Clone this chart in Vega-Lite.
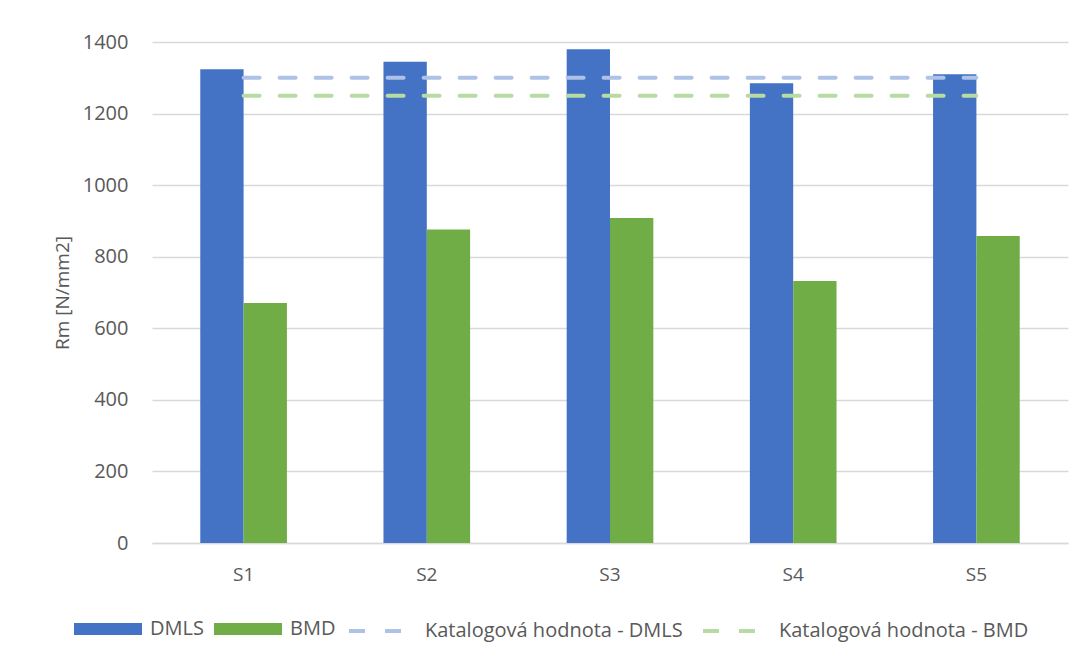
{
  "$schema": "https://vega.github.io/schema/vega-lite/v6.json",
  "width": 916,
  "height": 501,
  "autosize": "none",
  "padding": {"left": 152, "top": 42, "right": 15, "bottom": 117},
  "background": "white",
  "config": {
    "font": "Open Sans",
    "view": {"stroke": null}
  },
  "datasets": {
    "bars": [
      {"sample": "S1", "series": "DMLS", "rm": 1324},
      {"sample": "S1", "series": "BMD", "rm": 671},
      {"sample": "S2", "series": "DMLS", "rm": 1345},
      {"sample": "S2", "series": "BMD", "rm": 876},
      {"sample": "S3", "series": "DMLS", "rm": 1380},
      {"sample": "S3", "series": "BMD", "rm": 908},
      {"sample": "S4", "series": "DMLS", "rm": 1285},
      {"sample": "S4", "series": "BMD", "rm": 732},
      {"sample": "S5", "series": "DMLS", "rm": 1310},
      {"sample": "S5", "series": "BMD", "rm": 858}
    ],
    "catalog": [
      {"sample": "S1", "series": "Katalogová hodnota - DMLS", "rm": 1300},
      {"sample": "S2", "series": "Katalogová hodnota - DMLS", "rm": 1300},
      {"sample": "S3", "series": "Katalogová hodnota - DMLS", "rm": 1300},
      {"sample": "S4", "series": "Katalogová hodnota - DMLS", "rm": 1300},
      {"sample": "S5", "series": "Katalogová hodnota - DMLS", "rm": 1300},
      {"sample": "S1", "series": "Katalogová hodnota - BMD", "rm": 1250},
      {"sample": "S2", "series": "Katalogová hodnota - BMD", "rm": 1250},
      {"sample": "S3", "series": "Katalogová hodnota - BMD", "rm": 1250},
      {"sample": "S4", "series": "Katalogová hodnota - BMD", "rm": 1250},
      {"sample": "S5", "series": "Katalogová hodnota - BMD", "rm": 1250}
    ]
  },
  "layer": [
    {
      "data": {"name": "bars"},
      "mark": {"type": "bar"},
      "encoding": {
        "x": {
          "field": "sample",
          "type": "nominal",
          "scale": {"paddingInner": 0.527, "paddingOuter": 0.2635},
          "axis": {
            "title": null,
            "labelAngle": 0,
            "domain": true,
            "domainColor": "#d9d9d9",
            "domainWidth": 1.5,
            "ticks": false,
            "tickSize": 0,
            "grid": false,
            "labelPadding": 22,
            "labelFontSize": 19,
            "labelColor": "#595959"
          }
        },
        "xOffset": {
          "field": "series",
          "type": "nominal",
          "scale": {"domain": ["DMLS", "BMD"], "paddingInner": 0, "paddingOuter": 0}
        },
        "y": {
          "field": "rm",
          "type": "quantitative",
          "scale": {"domain": [0, 1400], "nice": false},
          "axis": {
            "title": "Rm [N/mm2]",
            "values": [0, 200, 400, 600, 800, 1000, 1200, 1400],
            "format": "d",
            "grid": true,
            "gridColor": "#d9d9d9",
            "gridWidth": 1.5,
            "domain": false,
            "ticks": false,
            "tickSize": 0,
            "labelPadding": 24,
            "labelFontSize": 20,
            "labelColor": "#595959",
            "titleFontSize": 19,
            "titleFontWeight": "normal",
            "titleColor": "#595959",
            "titlePadding": 10
          }
        },
        "fill": {
          "field": "series",
          "type": "nominal",
          "scale": {"domain": ["DMLS", "BMD"], "range": ["#4472C4", "#70AD47"]},
          "legend": {
            "orient": "none",
            "legendX": -78,
            "legendY": 553,
            "direction": "horizontal",
            "title": null,
            "symbolType": "M-1,-0.176H1V0.176H-1Z",
            "symbolSize": 4624,
            "symbolStrokeWidth": 0,
            "labelFontSize": 20,
            "labelColor": "#595959",
            "labelOffset": 8,
            "labelLimit": 400,
            "columnPadding": 10
          }
        }
      }
    },
    {
      "data": {"name": "catalog"},
      "mark": {"type": "line", "strokeWidth": 4, "strokeDash": [16, 20], "strokeCap": "round"},
      "encoding": {
        "x": {"field": "sample", "type": "nominal"},
        "y": {"field": "rm", "type": "quantitative"},
        "stroke": {
          "field": "series",
          "type": "nominal",
          "scale": {
            "domain": ["Katalogová hodnota - DMLS", "Katalogová hodnota - BMD"],
            "range": ["#ADC2E6", "#B8DBA3"]
          },
          "legend": {
            "orient": "none",
            "legendX": 195,
            "legendY": 553,
            "direction": "horizontal",
            "title": null,
            "symbolType": "stroke",
            "symbolSize": 4624,
            "symbolStrokeWidth": 4,
            "symbolDash": [16, 20],
            "labelFontSize": 20,
            "labelColor": "#595959",
            "labelOffset": 6,
            "labelLimit": 400,
            "columnPadding": 12
          }
        }
      }
    }
  ]
}
